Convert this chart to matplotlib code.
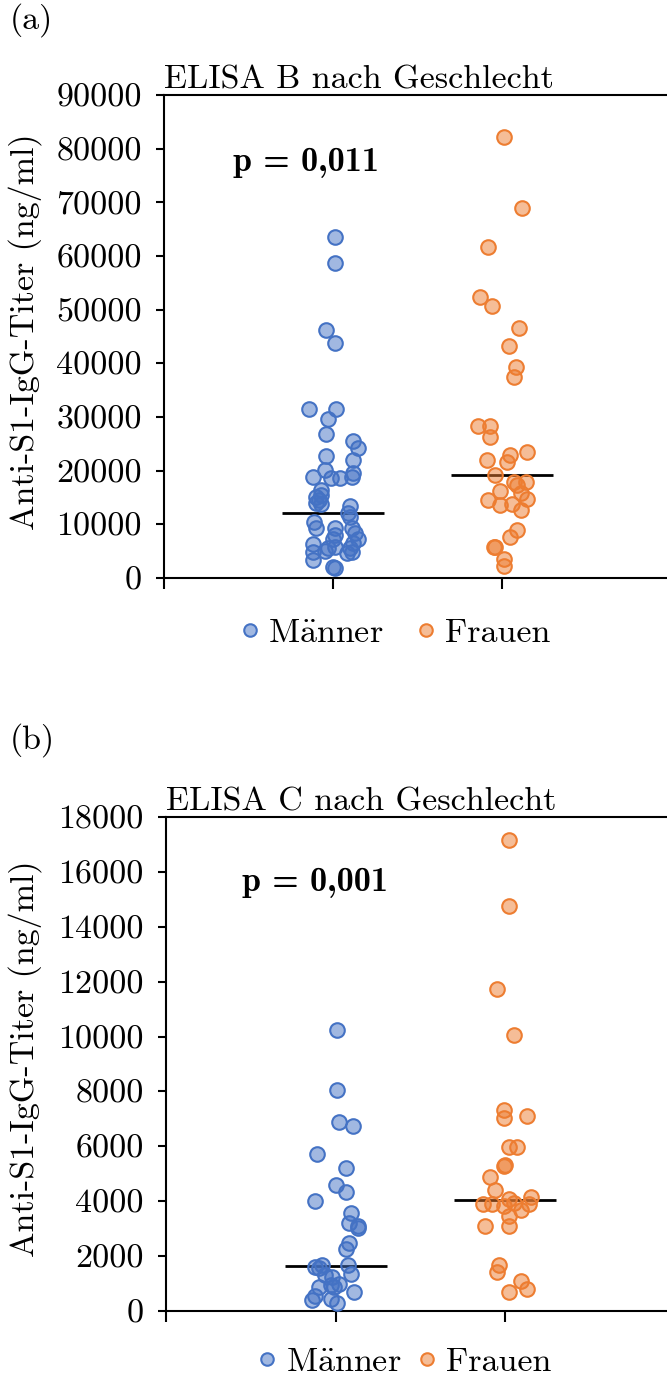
import numpy as np
import matplotlib
matplotlib.use('Agg')
import matplotlib.pyplot as plt
from matplotlib.lines import Line2D

plt.rcParams['font.family'] = ['cmr10', 'DejaVu Serif']
plt.rcParams['mathtext.fontset'] = 'cm'
plt.rcParams['axes.unicode_minus'] = False
plt.rcParams['axes.formatter.use_mathtext'] = True

# ---------------- data ----------------
groups = ['M$\\mathrm{\\ddot{a}}$nner', 'Frauen']
categories = [1, 2]

# Panel (a): ELISA B
a_maenner = [63500, 58700, 46200, 43800, 31500, 31500, 29600, 26800, 25500, 24300,
             22800, 22000, 20100, 19600, 18800, 18700, 18700, 18900, 16400, 15500,
             15000, 14500, 13900, 13700, 13400, 12100, 11400, 10400, 9300, 9300,
             9300, 8000, 8400, 7300, 7200, 6300, 6500, 5500, 5800, 5500,
             4900, 4600, 4900, 5100, 3400, 2100, 1800]
a_maenner_jit = [0.01, 0.01, -0.04, 0.01, -0.14, 0.02, -0.03, -0.04, 0.12, 0.15,
                 -0.04, 0.12, -0.05, 0.12, -0.12, -0.01, 0.04, 0.11, -0.07, -0.07,
                 -0.10, -0.08, -0.10, -0.07, 0.10, 0.09, 0.10, -0.11, -0.10, 0.01,
                 0.11, 0.01, 0.13, 0.15, 0.00, -0.12, 0.12, -0.03, 0.01, 0.10,
                 -0.12, 0.08, 0.11, -0.05, -0.12, 0.00, 0.01]
a_frauen = [82100, 68900, 61700, 52400, 50700, 46600, 43200, 39300, 37400, 28400,
            28400, 26200, 23400, 22900, 22000, 21600, 19200, 17900, 17900, 17300,
            16200, 15900, 14500, 14700, 13600, 13700, 12700, 8900, 7700, 5800,
            5800, 3500, 2200]
a_frauen_jit = [0.01, 0.12, -0.08, -0.13, -0.06, 0.10, 0.04, 0.08, 0.07, -0.14,
                -0.07, -0.07, 0.15, 0.05, -0.09, 0.03, -0.04, 0.07, 0.14, 0.09,
                -0.01, 0.11, -0.08, 0.15, -0.01, 0.06, 0.11, 0.09, 0.05, -0.04,
                -0.05, 0.01, 0.01]
a_medians = [12100, 19200]
a_ticks = [0, 10000, 20000, 30000, 40000, 50000, 60000, 70000, 80000, 90000]

# Panel (b): ELISA C
b_maenner = [10230, 8070, 6890, 6750, 5730, 5210, 4580, 4330, 3990, 3570,
             3200, 3100, 3020, 2470, 2250, 1600, 1680, 1560, 1680, 1310,
             1250, 1350, 950, 990, 870, 870, 680, 550, 400, 430, 280]
b_maenner_jit = [0.01, 0.01, 0.02, 0.10, -0.11, 0.06, 0.00, 0.06, -0.12, 0.09,
                 0.08, 0.13, 0.13, 0.08, 0.06, -0.12, -0.08, -0.10, 0.07, -0.06,
                 -0.02, 0.09, -0.03, 0.02, -0.10, -0.01, 0.11, -0.12, -0.14, -0.03,
                 0.01]
b_frauen = [17170, 14760, 11750, 10040, 7340, 7030, 7090, 5980, 5980, 5330,
            5280, 4900, 4420, 4170, 4080, 3890, 3890, 3810, 3930, 3690,
            3890, 3470, 3080, 3080, 1680, 1410, 1100, 790, 680]
b_frauen_jit = [0.02, 0.02, -0.05, 0.05, -0.01, -0.01, 0.13, 0.02, 0.07, 0.00,
                -0.01, -0.09, -0.06, 0.15, 0.02, -0.13, -0.08, -0.01, 0.05, 0.09,
                0.14, 0.02, -0.12, 0.02, -0.04, -0.05, 0.09, 0.13, 0.02]
b_medians = [1640, 4030]
b_ticks = [0, 2000, 4000, 6000, 8000, 10000, 12000, 14000, 16000, 18000]

titles = ['ELISA B nach Geschlecht', 'ELISA C nach Geschlecht']
p_texts = ['p = 0,011', 'p = 0,001']
panel_labels = ['(a)', '(b)']
ylabel = 'Anti-S1-IgG-Titer (ng/ml)'

# ---------------- style ----------------
W, H = 667, 1380
blue = '#4472C4'
orange = '#ED7D31'
fs = 24.5

fig = plt.figure(figsize=(W / 100, H / 100), dpi=100)


def px_ax(left, right, top, bottom):
    return fig.add_axes([left / W, 1 - bottom / H, (right - left) / W, (bottom - top) / H])


def panel(ax, vm, jm, vf, jf, med, ticks, title, ptext, pxy, left_px):
    ax.scatter(categories[0] + np.array(jm), vm, s=110, facecolor=(0.267, 0.447, 0.769, 0.5),
               edgecolor=blue, linewidth=1.5, zorder=3)
    ax.scatter(categories[1] + np.array(jf), vf, s=110, facecolor=(0.929, 0.490, 0.192, 0.5),
               edgecolor=orange, linewidth=1.5, zorder=3)
    for c, m in zip(categories, med):
        ax.hlines(m, c - 0.3, c + 0.3, color='black', lw=2, zorder=2)
    ax.set_xlim(0, 3)
    ax.set_ylim(ticks[0], ticks[-1])
    ax.set_yticks(ticks)
    ax.set_yticklabels([str(t) for t in ticks], fontsize=fs)
    ax.set_xticks([0, 1, 2, 3])
    ax.set_xticklabels([])
    ax.tick_params(axis='y', direction='out', length=6, width=1.5, pad=10)
    ax.tick_params(axis='x', direction='out', length=8, width=1.5)
    for s in ['left', 'top', 'bottom']:
        ax.spines[s].set_linewidth(1.5)
    ax.spines['right'].set_visible(False)
    ax.set_title(title, loc='left', fontsize=fs, pad=5)
    ax.text(pxy[0], pxy[1], ptext, fontsize=fs, ha='center', va='center',
            family='cmb10')
    ax.set_ylabel(ylabel, fontsize=fs)
    axw = ax.get_position().width * W
    ax.yaxis.set_label_coords((42 - left_px) / axw, 0.51)


axA = px_ax(164, 671, 95, 578)
panel(axA, a_maenner, a_maenner_jit, a_frauen, a_frauen_jit, a_medians, a_ticks,
      titles[0], p_texts[0], (0.84, 77500), 164)
axB = px_ax(166, 675, 817, 1311)
panel(axB, b_maenner, b_maenner_jit, b_frauen, b_frauen_jit, b_medians, b_ticks,
      titles[1], p_texts[1], (0.88, 15600), 166)

fig.text(10 / W, 1 - 20 / H, panel_labels[0], fontsize=fs, va='center', ha='left')
fig.text(10 / W, 1 - 740 / H, panel_labels[1], fontsize=fs, va='center', ha='left')

handles = [Line2D([], [], marker='o', ls='', markersize=9, markerfacecolor=(0.267, 0.447, 0.769, 0.5),
                  markeredgecolor=blue, markeredgewidth=1.5),
           Line2D([], [], marker='o', ls='', markersize=9, markerfacecolor=(0.929, 0.490, 0.192, 0.5),
                  markeredgecolor=orange, markeredgewidth=1.5)]
fig.legend(handles, groups, loc='center', bbox_to_anchor=(395 / W, 1 - 633 / H), ncol=2,
           frameon=False, fontsize=fs, handlelength=0.6, handletextpad=0.25, columnspacing=0.95)
fig.legend(handles, groups, loc='center', bbox_to_anchor=(404 / W, 1 - 1362 / H), ncol=2,
           frameon=False, fontsize=fs, handlelength=0.6, handletextpad=0.25, columnspacing=0.45)

fig.savefig('out.png', dpi=100)
